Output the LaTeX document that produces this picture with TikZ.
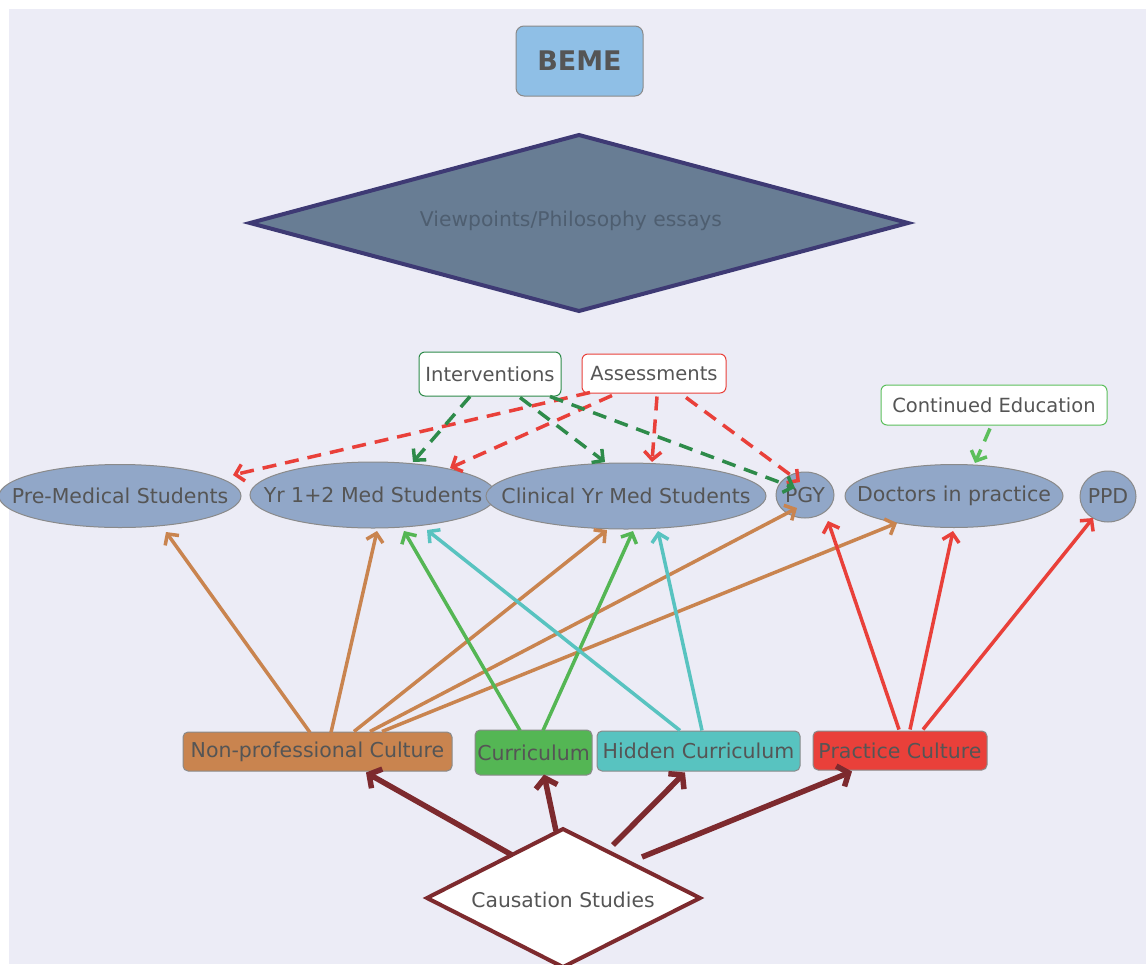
\documentclass[tikz,border=0pt]{standalone}
\usepackage{fontspec}
\setmainfont{DejaVu Sans}
\usetikzlibrary{arrows.meta,calc,shapes.geometric}
\definecolor{bgc}{HTML}{ECECF6}
\definecolor{txt}{HTML}{555555}
\definecolor{ellf}{HTML}{91A7C8}
\definecolor{ellb}{HTML}{8A8A8A}
\definecolor{bemef}{HTML}{8FBFE6}
\definecolor{vpf}{HTML}{687D94}
\definecolor{vpb}{HTML}{3E3A74}
\definecolor{vpt}{HTML}{4E5E70}
\definecolor{brn}{HTML}{C9844F}
\definecolor{grn}{HTML}{54B654}
\definecolor{tea}{HTML}{58C3C0}
\definecolor{rd}{HTML}{E9403A}
\definecolor{drd}{HTML}{7D2A2E}
\definecolor{dgr}{HTML}{2E8B4A}
\definecolor{lgr}{HTML}{5CBF5C}
\newcommand{\zw}[1]{\makebox[0pt]{#1}}
\tikzset{
  ell/.style={ellipse, draw=ellb, line width=1pt, fill=ellf, inner sep=0pt, text=txt, font=\fontsize{20.5}{22}\selectfont},
  tbox/.style={rectangle, rounded corners=6pt, draw=#1, line width=1pt, fill=white, inner sep=0pt, text=txt, font=\fontsize{19.5}{22}\selectfont},
  cbox/.style={rectangle, rounded corners=5pt, draw=ellb, line width=1pt, fill=#1, inner sep=0pt, text=txt, font=\fontsize{20.5}{22}\selectfont},
  solidarr/.style={draw=#1, line width=3.5pt, -{Straight Barb[length=8pt,width=17pt]}},
  dasharr/.style={draw=#1, line width=3.5pt, dash pattern=on 14pt off 9pt, -{Straight Barb[length=8pt,width=17pt]}},
  causearr/.style={draw=drd, line width=5.5pt, -{Straight Barb[length=9pt,width=22pt]}},
}
\begin{document}
\begin{tikzpicture}[x=1pt,y=-1pt]
\useasboundingbox (0,0) rectangle (1146,964);
\fill[white] (0,0) rectangle (1146,964);
\fill[bgc] (9,9) rectangle (1146,964);

% top
\node[rectangle, rounded corners=8pt, draw=ellb, line width=1pt, fill=bemef, minimum width=127pt, minimum height=70pt, inner sep=0pt, text=txt, font=\fontsize{27}{30}\selectfont\bfseries] (beme) at (579.5,61) {BEME};
\draw[vpb, line width=4pt, fill=vpf, line join=miter] (250,223) -- (579,135) -- (908,223) -- (579,311) -- cycle;
\node[text=vpt, font=\fontsize{20.3}{22}\selectfont] (vp) at (571,221) {Viewpoints/Philosophy essays};

% label boxes
\node[tbox=dgr, minimum width=142pt, minimum height=44pt] (int) at (490,374) {Interventions};
\node[tbox=rd, minimum width=144pt, minimum height=39pt] (ass) at (654,373.5) {Assessments};
\node[tbox=lgr, minimum width=226pt, minimum height=40pt] (ce) at (994,405) {Continued Education};

% ellipses
\node[ell, minimum width=242pt, minimum height=63pt] (pm) at (120,496) {\zw{Pre-Medical Students}};
\node[ell, minimum width=246pt, minimum height=66pt] (y12) at (373,495) {\zw{Yr 1+2 Med Students}};
\node[ell, minimum width=280pt, minimum height=66pt] (cl) at (626,496) {\zw{Clinical Yr Med Students}};
\node[ell, minimum width=58pt, minimum height=46pt] (pgy) at (805,495) {\zw{PGY}};
\node[ell, minimum width=218pt, minimum height=63pt] (doc) at (954,496) {\zw{Doctors in practice}};
\node[ell, minimum width=56pt, minimum height=51pt] (ppd) at (1108,496.5) {\zw{PPD}};

% culture boxes
\node[cbox=brn, minimum width=269pt, minimum height=39pt] (np) at (317.5,751.5) {Non-professional Culture};
\node[cbox=grn, minimum width=117pt, minimum height=45pt] (cur) at (533.5,752.5) {Curriculum};
\node[cbox=tea, minimum width=203pt, minimum height=40pt] (hid) at (698.5,751) {Hidden Curriculum};
\node[cbox=rd, minimum width=174pt, minimum height=39pt] (pc) at (900,750.5) {Practice Culture};

% causation diamond
\draw[drd, line width=4pt, fill=white, line join=miter] (427,898) -- (563,829) -- (700,898) -- (563,967) -- cycle;
\node[text=txt, font=\fontsize{20.3}{22}\selectfont] (cs) at (563,900) {Causation Studies};

% dashed arrows from Assessments
\draw[dasharr=rd] ($(ass.south)+(-64,-1)$) -- ($(pm.center)+(113,-21)$);
\draw[dasharr=rd] ($(ass.south)+(-42,2)$) -- ($(y12.center)+(77,-27)$);
\draw[dasharr=rd] ($(ass.south)+(3,3)$) -- ($(cl.center)+(26,-34)$);
\draw[dasharr=rd] ($(ass.south)+(32,4)$) -- ($(pgy.center)+(-5,-13)$);
% dashed arrows from Interventions
\draw[dasharr=dgr] ($(int.south)+(-20,0)$) -- ($(y12.center)+(40,-33)$);
\draw[dasharr=dgr] ($(int.south)+(30,1)$) -- ($(cl.center)+(-21,-34)$);
\draw[dasharr=dgr] ($(int.south)+(60,0)$) -- ($(pgy.center)+(-10,-7)$);
% continued education
\draw[dasharr=lgr] ($(ce.south)+(-4,3)$) -- ($(doc.center)+(21,-33)$);

% non-professional culture
\draw[solidarr=brn] ($(np.north)+(-7.5,1)$) -- ($(pm.center)+(46,36)$);
\draw[solidarr=brn] ($(np.north)+(13.5,1)$) -- ($(y12.center)+(4,36)$);
\draw[solidarr=brn] ($(np.north)+(36.5,0)$) -- ($(cl.center)+(-19,34)$);
\draw[solidarr=brn] ($(np.north)+(52.5,0)$) -- ($(pgy.center)+(-8,13)$);
\draw[solidarr=brn] ($(np.north)+(64.5,0)$) -- ($(doc.center)+(-57,27)$);
% curriculum
\draw[solidarr=grn] ($(cur.north)+(-13.5,1)$) -- ($(y12.center)+(31,36)$);
\draw[solidarr=grn] ($(cur.north)+(9.5,1)$) -- ($(cl.center)+(7,35)$);
% hidden curriculum
\draw[solidarr=tea] ($(hid.north)+(-18.5,0)$) -- ($(y12.center)+(54,35)$);
\draw[solidarr=tea] ($(hid.north)+(3.5,0)$) -- ($(cl.center)+(32,35)$);
% practice culture
\draw[solidarr=rd] ($(pc.north)+(-1,-1)$) -- ($(pgy.center)+(23,26)$);
\draw[solidarr=rd] ($(pc.north)+(10,-1)$) -- ($(doc.center)+(-1,35)$);
\draw[solidarr=rd] ($(pc.north)+(23,-1)$) -- ($(ppd.center)+(-15,21.5)$);

% causation
\draw[causearr] ($(cs.center)+(-51,-45)$) -- ($(np.south)+(48.5,1)$);
\draw[causearr] ($(cs.center)+(-7,-69)$) -- ($(cur.south)+(10.5,-1)$);
\draw[causearr] ($(cs.center)+(50,-55)$) -- ($(hid.south)+(-13.5,1)$);
\draw[causearr] ($(cs.center)+(79,-43)$) -- ($(pc.south)+(-48,1)$);
\end{tikzpicture}
\end{document}
